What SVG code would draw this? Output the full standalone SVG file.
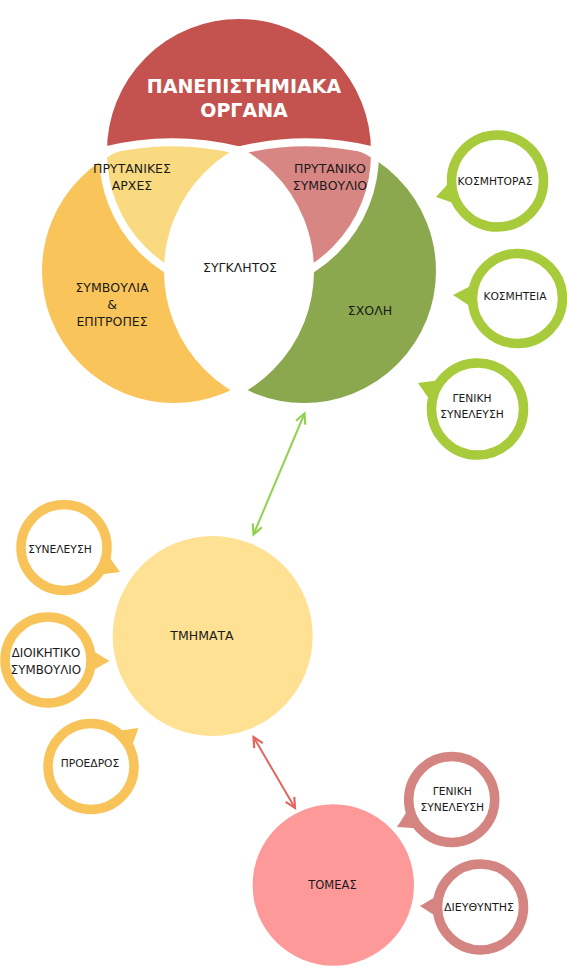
<svg xmlns="http://www.w3.org/2000/svg" width="567" height="966" viewBox="0 0 567 966">
<style>
text{font-family:"DejaVu Sans","Liberation Sans",sans-serif;fill:#1a1a1a;text-anchor:middle}
.v{font-size:12.5px}
.s{font-size:10.7px}
.t{font-size:19px;font-weight:bold;fill:#fff}
.sep{fill:none;stroke:#fff;stroke-width:8}
.rg{fill:#fff;stroke:#A7CB3B;stroke-width:9.5}
.ry{fill:#fff;stroke:#F8C45A;stroke-width:9.5}
.rp{fill:#fff;stroke:#D48582;stroke-width:9.5}
.cn{fill:none;stroke-width:2}
</style>
<defs>
<clipPath id="cR"><circle cx="239" cy="154" r="136"/></clipPath>
<clipPath id="cY"><circle cx="174" cy="271" r="136"/></clipPath>
<marker id="ag" markerUnits="userSpaceOnUse" markerWidth="14" markerHeight="14" refX="11" refY="6" orient="auto-start-reverse"><path d="M1,1 L11,6 L1,11" fill="none" stroke="#92D050" stroke-width="2.2"/></marker>
<marker id="ar" markerUnits="userSpaceOnUse" markerWidth="14" markerHeight="14" refX="11" refY="6" orient="auto-start-reverse"><path d="M1,1 L11,6 L1,11" fill="none" stroke="#E5665E" stroke-width="2.2"/></marker>
</defs>

<g id="venn">
<g id="symvoulia">
<circle cx="174" cy="271" r="136" fill="#F9C55B"/>
</g>
<g id="scholi">
<circle cx="304" cy="271" r="136" fill="#8BA84F"/>
</g>
<g id="prytanikes">
<circle cx="174" cy="271" r="136" fill="#F9DA80" clip-path="url(#cR)"/>
</g>
<g id="prytaniko">
<circle cx="304" cy="271" r="136" fill="#D88683" clip-path="url(#cR)"/>
</g>
<g id="synklitos">
<circle cx="304" cy="271" r="136" fill="#fff" clip-path="url(#cY)"/>
</g>
<circle class="sep" cx="239" cy="154" r="136"/>
<circle class="sep" cx="174" cy="271" r="136"/>
<circle class="sep" cx="304" cy="271" r="136"/>
<g id="organa">
<path d="M103,151 A136,136 0 1,1 375,151 A284,284 0 0,0 239,150.5 A284,284 0 0,0 103,151 Z" fill="#C4534F" stroke="#fff" stroke-width="8" stroke-linejoin="round"/>
<text class="t" x="244" y="93">ΠΑΝΕΠΙΣΤΗΜΙΑΚΑ</text>
<text class="t" x="244" y="117">ΟΡΓΑΝΑ</text>
</g>
<text class="v" x="132" y="173">ΠΡΥΤΑΝΙΚΕΣ</text>
<text class="v" x="132" y="190">ΑΡΧΕΣ</text>
<text class="v" x="330" y="173">ΠΡΥΤΑΝΙΚΟ</text>
<text class="v" x="330" y="190">ΣΥΜΒΟΥΛΙΟ</text>
<text class="v" x="240" y="272">ΣΥΓΚΛΗΤΟΣ</text>
<text class="v" x="112" y="292">ΣΥΜΒΟΥΛΙΑ</text>
<text class="v" x="112" y="309">&amp;</text>
<text class="v" x="112" y="326">ΕΠΙΤΡΟΠΕΣ</text>
<text class="v" x="370" y="315">ΣΧΟΛΗ</text>
</g>

<g id="connectors">
<line class="cn" x1="253.5" y1="534.5" x2="304.5" y2="413.5" stroke="#92D050" marker-start="url(#ag)" marker-end="url(#ag)"/>
<line class="cn" x1="253.5" y1="737" x2="295" y2="808" stroke="#E5665E" marker-start="url(#ar)" marker-end="url(#ar)"/>
</g>

<g id="kosmitoras">
<polygon points="436,197 457.9,204.4 451.5,179.9" fill="#A7CB3B"/>
<circle class="rg" cx="497.5" cy="181" r="46"/>
<text class="s" x="495" y="185">ΚΟΣΜΗΤΟΡΑΣ</text>
</g>
<g id="kosmiteia">
<polygon points="453,295 473.6,308.5 475,283.8" fill="#A7CB3B"/>
<circle class="rg" cx="517.5" cy="298.5" r="45"/>
<text class="s" x="515" y="300">ΚΟΣΜΗΤΕΙΑ</text>
</g>
<g id="geniki-scholis">
<polygon points="418,383 431.9,402.9 442.1,379.7" fill="#A7CB3B"/>
<circle class="rg" cx="477.5" cy="409" r="46"/>
<text class="s" x="472" y="401.5">ΓΕΝΙΚΗ</text>
<text class="s" x="472" y="418">ΣΥΝΕΛΕΥΣΗ</text>
</g>

<g id="tmimata">
<circle cx="212.7" cy="636" r="100" fill="#FEE192"/>
<text class="v" x="202" y="640">ΤΜΗΜΑΤΑ</text>
</g>
<g id="syneleusi">
<polygon points="120,572 106.6,553.2 97.1,574.9" fill="#F8C45A"/>
<circle class="ry" cx="64" cy="547.5" r="43"/>
<text class="s" x="60" y="553">ΣΥΝΕΛΕΥΣΗ</text>
</g>
<g id="dioikitiko">
<polygon points="109.5,661 89.5,648.8 89.1,672.5" fill="#F8C45A"/>
<circle class="ry" cx="48" cy="660" r="43"/>
<text class="v" style="font-size:11.8px" x="46" y="657">ΔΙΟΙΚΗΤΙΚΟ</text>
<text class="v" style="font-size:11.8px" x="46" y="674">ΣΥΜΒΟΥΛΙΟ</text>
</g>
<g id="proedros">
<polygon points="138.5,728 115.7,731.3 130.6,749.7" fill="#F8C45A"/>
<circle class="ry" cx="91" cy="766.5" r="43"/>
<text class="s" x="90" y="767">ΠΡΟΕΔΡΟΣ</text>
</g>

<g id="tomeas">
<circle cx="333.3" cy="885" r="80.7" fill="#FE9999"/>
<text class="v" style="font-size:11.5px" x="332.5" y="888.5">ΤΟΜΕΑΣ</text>
</g>
<g id="geniki-tomea">
<polygon points="397,827 420.1,828.6 409.4,807.5" fill="#D48582"/>
<circle class="rp" cx="451.7" cy="799.5" r="43"/>
<text class="s" x="452.3" y="795">ΓΕΝΙΚΗ</text>
<text class="s" x="452.3" y="810.5">ΣΥΝΕΛΕΥΣΗ</text>
</g>
<g id="dieuthyntis">
<polygon points="420,906 439,918.2 439.4,894.5" fill="#D48582"/>
<circle class="rp" cx="480.5" cy="907" r="43"/>
<text class="s" style="font-size:11px" x="479" y="911">ΔΙΕΥΘΥΝΤΗΣ</text>
</g>
</svg>
